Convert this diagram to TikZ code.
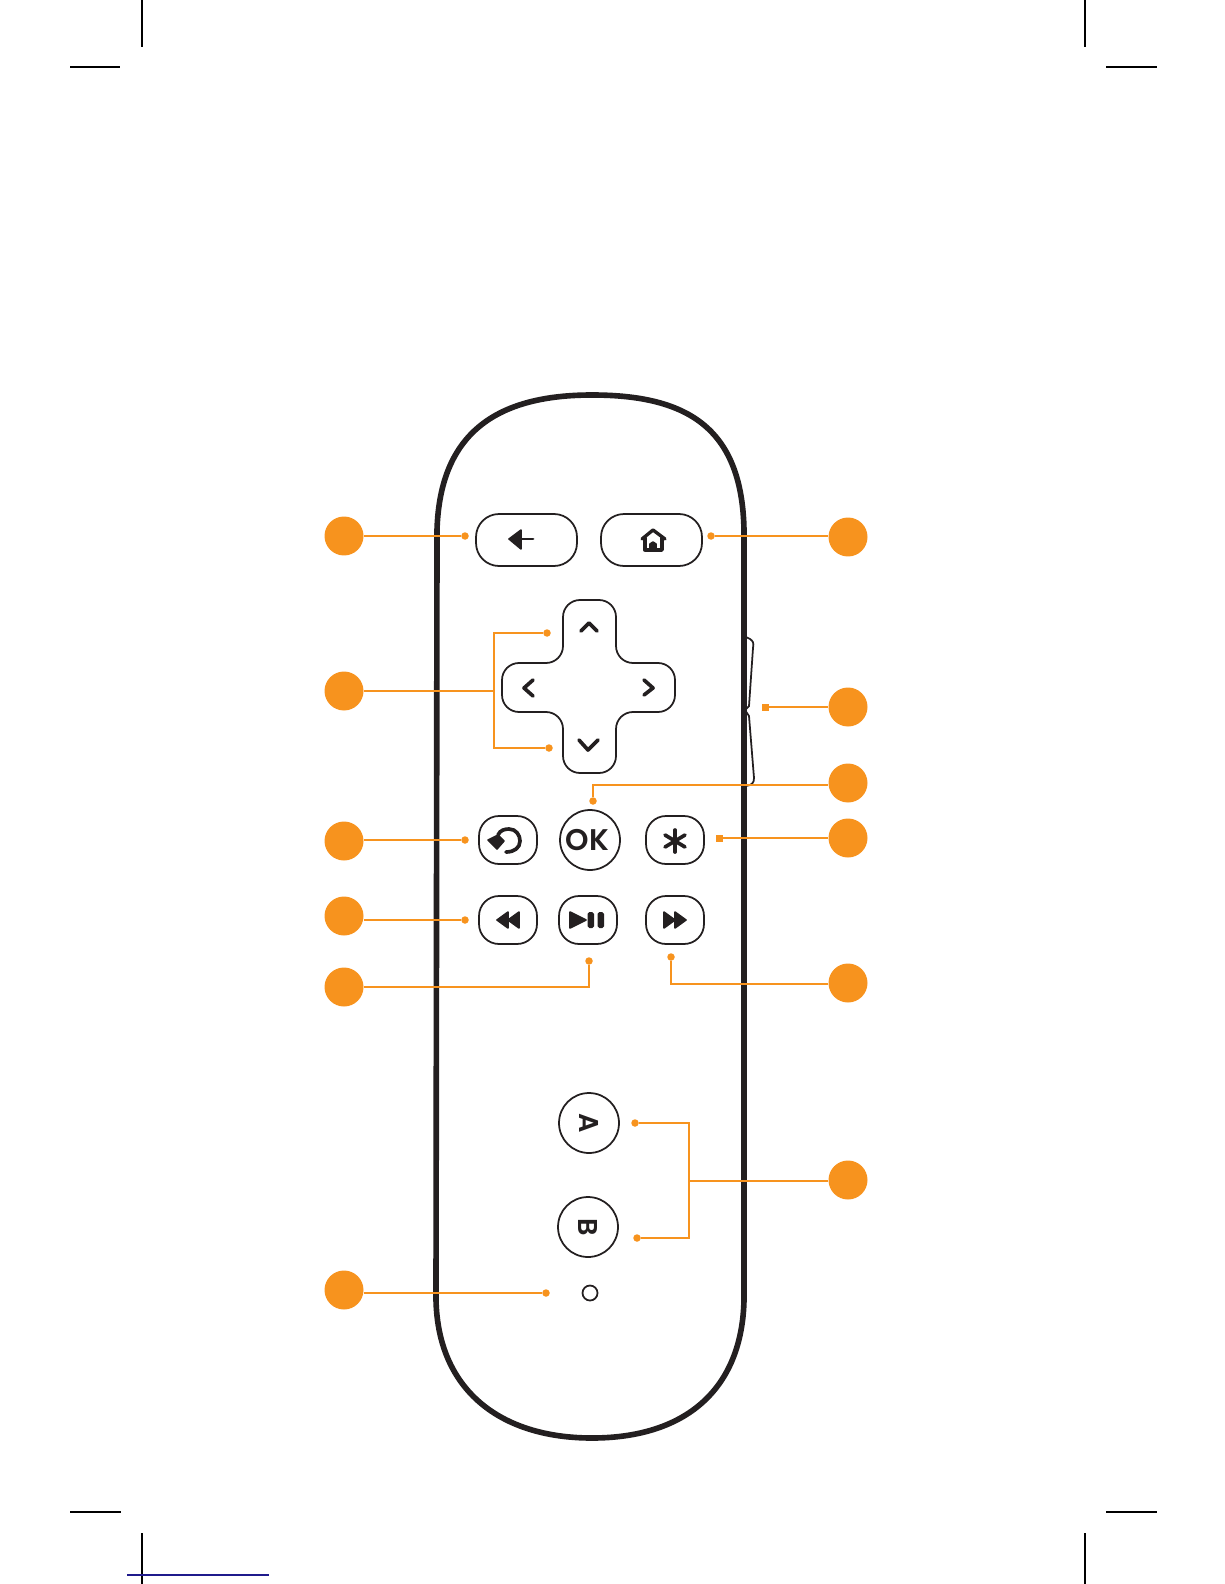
\documentclass[tikz,border=0pt]{standalone}
\usepackage{fontspec}
\newfontfamily\keyfont{Poppins SemiBold}
\usepackage{tikz}
\definecolor{callout}{HTML}{F7931E}
\definecolor{ink}{HTML}{231F20}
\definecolor{bleed}{HTML}{1F1A8C}
\def \wide{2.02cm}
\def \bump{1.16cm}
\tikzset{
  badge/.style={shape=circle, fill=callout, minimum size=0.78cm, inner sep=0pt},
  tick/.style={shape=circle, fill=callout, minimum size=0.15cm, inner sep=0pt},
  stub/.style={shape=rectangle, fill=callout, minimum size=0.14cm, inner sep=0pt},
  lead/.style={draw=callout, line width=1pt},
  key/.style={draw=ink, line width=1pt, inner sep=0pt},
  longkey/.style={key, shape=rectangle, rounded corners=0.46cm, minimum width=\wide, minimum height=1.04cm},
  smallkey/.style={key, shape=rectangle, rounded corners=0.4cm, minimum width=\bump, minimum height=0.96cm},
  roundkey/.style={key, shape=circle, minimum size=1.2cm, text=ink, font=\keyfont\fontsize{15.5}{16}\selectfont},
  glyph/.style={draw=ink, line width=2.1pt, line cap=round, line join=round},
  solidglyph/.style={fill=ink, draw=ink, line width=0.9pt, line join=round},
  crop/.style={draw=black, line width=0.6pt}
}
\begin{document}
\begin{tikzpicture}[x=0.02cm, y=-0.02cm]
    \useasboundingbox (0, 0) rectangle (1224, 1584);
    % crop marks
    \draw[crop] (142, 0) -- (142, 47);
    \draw[crop] (70, 67) -- (120, 67);
    \draw[crop] (1085, 0) -- (1085, 47);
    \draw[crop] (1106, 67) -- (1157, 67);
    \draw[crop] (70, 1512) -- (121, 1512);
    \draw[crop] (142, 1533) -- (142, 1584);
    \draw[crop] (1085, 1533) -- (1085, 1584);
    \draw[crop] (1106, 1512) -- (1157, 1512);
    \draw[draw=bleed, line width=0.6pt] (127, 1575) -- (269, 1575);
    % side rocker
    \draw[key] (746, 637) -- (750, 639) .. controls (753, 641) and (754, 643) .. (753, 648) -- (749, 706) -- (745, 710) -- (749, 716) -- (754, 778) .. controls (754, 783) and (752, 785) .. (746, 786);
    % remote body
    \draw[draw=ink, line width=3.2pt] (437, 530) .. controls (440, 430) and (500, 395) .. (592, 395) .. controls (690, 395) and (742, 430) .. (744, 530) -- (744, 1300) .. controls (742, 1390) and (685, 1438) .. (592, 1438) .. controls (500, 1438) and (438, 1390) .. (436, 1300) -- cycle;
    % keys
    \node[longkey] (Back) at (526.5, 540) {};
    \node[longkey] (Home) at (651.5, 540) {};
    \draw[key, rounded corners=0.34cm] (563, 600) -- (616, 600) -- (616, 663) -- (675, 663) -- (675, 712) -- (616, 712) -- (616, 773) -- (563, 773) -- (563, 712) -- (502, 712) -- (502, 663) -- (563, 663) -- cycle;
    \node[smallkey] (Replay) at (508, 840) {};
    \node[roundkey] (Ok) at (590, 840) {\fontsize{17}{17}\selectfont OK\kern2.8pt};
    \node[smallkey] (Star) at (675, 840) {};
    \node[smallkey] (Rew) at (508, 920) {};
    \node[smallkey] (Play) at (588, 920) {};
    \node[smallkey] (Ffw) at (675, 920) {};
    \node[roundkey] (A) at (589, 1123) {\rotatebox{-90}{A}};
    \node[roundkey] (B) at (588, 1227) {\rotatebox{-90}{B}};
    \node[key, shape=circle, minimum size=0.3cm] (Led) at (590, 1293) {};
    % key glyphs
    \draw[solidglyph] (509, 539) -- (521, 530) -- (521, 549) -- cycle;
    \draw[glyph, line width=1.7pt] (520, 539) -- (533, 539);
    \draw[glyph, line width=1.9pt] (642, 539) -- (653, 530) -- (665, 539);
    \draw[glyph, line width=1.9pt] (645, 538) -- (645, 550) -- (662, 550) -- (662, 538);
    \draw[solidglyph] (650, 550) -- (650, 544) -- (653, 542) -- (656, 544) -- (656, 550) -- cycle;
    \draw[glyph] (581, 631) -- (589, 623) -- (597, 631);
    \draw[glyph] (533, 680) -- (524, 688) -- (533, 696);
    \draw[glyph] (644, 680) -- (653, 688) -- (644, 695);
    \draw[glyph] (579, 740) -- (588, 750) -- (598, 740);
    \draw[glyph] (498, 835) .. controls (500, 830) and (505, 829) .. (509, 829) .. controls (516, 829) and (520, 835) .. (520, 841) .. controls (520, 848) and (514, 852) .. (506, 852);
    \draw[solidglyph] (488, 840) -- (498, 835) -- (504, 841) -- (497, 849) -- cycle;
    \draw[glyph] (675, 830) -- (675, 852);
    \draw[glyph] (665, 835) -- (685, 847);
    \draw[glyph] (665, 847) -- (685, 835);
    \draw[solidglyph] (497, 920) -- (508, 912) -- (508, 928) -- cycle;
    \draw[solidglyph] (508, 920) -- (519, 912) -- (519, 928) -- cycle;
    \draw[solidglyph] (570, 912) -- (586, 920) -- (570, 928) -- cycle;
    \fill[ink, rounded corners=1pt] (587.5, 912) rectangle (594, 928);
    \fill[ink, rounded corners=1pt] (597.5, 912) rectangle (604, 928);
    \draw[solidglyph] (664, 912) -- (675, 920) -- (664, 928) -- cycle;
    \draw[solidglyph] (675, 912) -- (686, 920) -- (675, 928) -- cycle;
    % callouts, left
    \node[badge] (L1) at (344, 536) {};
    \node[badge] (L2) at (344, 691) {};
    \node[badge] (L3) at (344, 841) {};
    \node[badge] (L4) at (344, 916) {};
    \node[badge] (L5) at (344, 987) {};
    \node[badge] (L6) at (344, 1290) {};
    % callouts, right
    \node[badge] (R1) at (848, 537) {};
    \node[badge] (R2) at (848, 707) {};
    \node[badge] (R3) at (848, 783) {};
    \node[badge] (R4) at (848, 838) {};
    \node[badge] (R5) at (848, 983) {};
    \node[badge] (R6) at (848, 1180) {};
    % lead ends
    \node[tick] (TBack) at (465, 536) {};
    \node[tick] (THome) at (711, 536) {};
    \node[tick] (TUp) at (547, 633) {};
    \node[tick] (TDown) at (549, 748) {};
    \node[stub] (TSide) at (765, 707) {};
    \node[tick] (TOk) at (593, 801) {};
    \node[tick] (TReplay) at (465, 840) {};
    \node[stub] (TStar) at (719, 838) {};
    \node[tick] (TRew) at (465, 920) {};
    \node[tick] (TPlay) at (589, 961) {};
    \node[tick] (TFfw) at (671, 957) {};
    \node[tick] (TA) at (635, 1123) {};
    \node[tick] (TB) at (637, 1238) {};
    \node[tick] (TLed) at (546, 1293) {};
    \coordinate (JPad) at (494, 691);
    \coordinate (JAb) at (689, 1181);
    \coordinate (JOk) at (593, 785);
    \coordinate (JFfw) at (671, 984);
    % leads
    \draw[lead] (L1.east |- TBack) -- (TBack);
    \draw[lead] (R1.west |- THome) -- (THome);
    \draw[lead] (L2) -- (JPad);
    \draw[lead] (TUp) -| (JPad) |- (TDown);
    \draw[lead] (R2.west |- TSide) -- (TSide);
    \draw[lead] (R3.west |- JOk) -- (JOk) -- (TOk);
    \draw[lead] (L3.east |- TReplay) -- (TReplay);
    \draw[lead] (R4) -- (TStar);
    \draw[lead] (L4.east |- TRew) -- (TRew);
    \draw[lead] (L5) -| (TPlay);
    \draw[lead] (R5.west |- JFfw) -- (JFfw) -- (TFfw);
    \draw[lead] (R6.west |- JAb) -- (JAb);
    \draw[lead] (TA) -| (JAb) |- (TB);
    \draw[lead] (L6.east |- TLed) -- (TLed);
  \end{tikzpicture}
\end{document}
